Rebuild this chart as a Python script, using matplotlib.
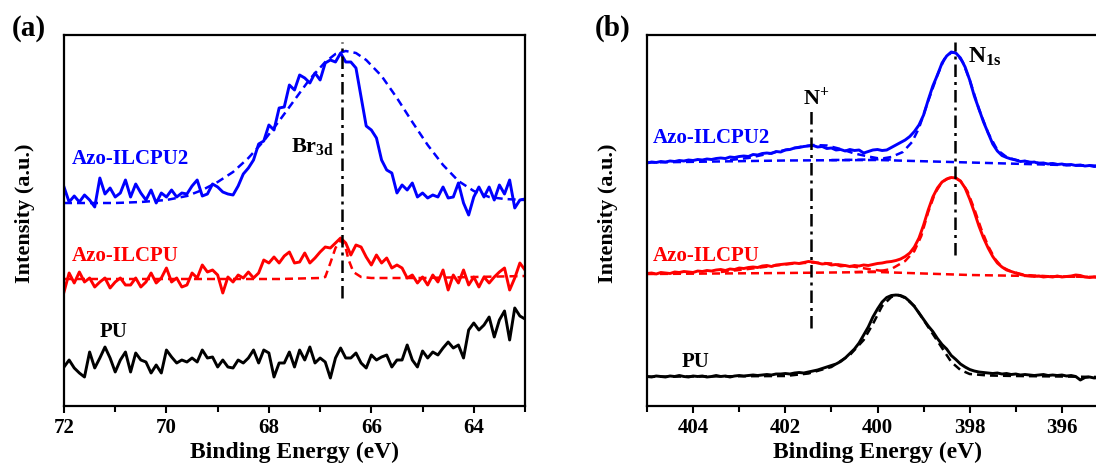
import matplotlib
matplotlib.use("Agg")
import matplotlib.pyplot as plt
from matplotlib.ticker import MultipleLocator

plt.rcParams['font.family'] = ['Liberation Serif', 'DejaVu Serif']
plt.rcParams['font.weight'] = 'bold'
plt.rcParams['mathtext.fontset'] = 'custom'
plt.rcParams['mathtext.rm'] = 'Liberation Serif:bold'
plt.rcParams['mathtext.it'] = 'Liberation Serif:bold'
plt.rcParams['mathtext.bf'] = 'Liberation Serif:bold'

# ---------------- (a) Br 3d region ----------------
be_a = [72.0, 71.9, 71.8, 71.7, 71.6, 71.5, 71.4, 71.3, 71.2, 71.1,
        71.0, 70.9, 70.8, 70.7, 70.6, 70.5, 70.4, 70.3, 70.2, 70.1,
        70.0, 69.9, 69.8, 69.7, 69.6, 69.5, 69.4, 69.3, 69.2, 69.1,
        69.0, 68.9, 68.8, 68.7, 68.6, 68.5, 68.4, 68.3, 68.2, 68.1,
        68.0, 67.9, 67.8, 67.7, 67.6, 67.5, 67.4, 67.3, 67.2, 67.1,
        67.0, 66.9, 66.8, 66.7, 66.6, 66.5, 66.4, 66.3, 66.2, 66.1,
        66.0, 65.9, 65.8, 65.7, 65.6, 65.5, 65.4, 65.3, 65.2, 65.1,
        65.0, 64.9, 64.8, 64.7, 64.6, 64.5, 64.4, 64.3, 64.2, 64.1,
        64.0, 63.9, 63.8, 63.7, 63.6, 63.5, 63.4, 63.3, 63.2, 63.1,
        63.0]
br_ilcpu2 = [219, 204, 210, 204, 211, 206, 199, 228, 212, 218,
             209, 213, 226, 209, 222, 213, 206, 216, 203, 213,
             209, 216, 209, 213, 212, 220, 226, 210, 212, 222,
             219, 214, 212, 211, 220, 232, 238, 246, 262, 265,
             281, 276, 298, 299, 321, 316, 331, 328, 323, 333,
             326, 343, 346, 344, 353, 344, 344, 338, 309, 280,
             276, 268, 246, 236, 233, 213, 221, 216, 223, 209,
             213, 208, 211, 209, 219, 208, 209, 223, 203, 191,
             209, 219, 209, 219, 206, 221, 212, 226, 198, 206,
             207]
br_ilcpu = [114, 133, 123, 134, 124, 128, 119, 124, 128, 118,
            124, 128, 121, 121, 128, 119, 124, 133, 123, 128,
            138, 124, 128, 119, 121, 133, 128, 141, 134, 136,
            131, 113, 129, 124, 131, 128, 134, 128, 133, 146,
            143, 149, 143, 150, 154, 143, 144, 153, 143, 148,
            154, 159, 158, 163, 168, 163, 151, 161, 159, 149,
            141, 151, 143, 148, 138, 141, 138, 128, 131, 123,
            129, 121, 131, 124, 136, 116, 131, 123, 136, 121,
            129, 119, 129, 123, 129, 134, 138, 116, 128, 143,
            136]
br_pu = [39, 46, 38, 33, 29, 54, 38, 48, 59, 48,
         34, 46, 54, 34, 53, 46, 44, 33, 41, 33,
         56, 49, 43, 46, 44, 48, 44, 56, 48, 49,
         39, 46, 39, 38, 46, 43, 48, 56, 43, 56,
         53, 29, 43, 43, 54, 39, 56, 46, 59, 43,
         48, 44, 28, 48, 58, 48, 48, 53, 43, 38,
         51, 46, 49, 51, 39, 46, 46, 61, 46, 39,
         55, 48, 54, 51, 58, 64, 58, 61, 48, 76,
         83, 76, 81, 89, 69, 86, 95, 66, 98, 90,
         87]

fit_be_a2 = [72.0, 71.0, 70.5, 70.0, 69.6, 69.3, 69.0, 68.7, 68.4, 68.1,
             67.8, 67.5, 67.2, 66.9, 66.7, 66.5, 66.3, 66.1, 65.8, 65.5,
             65.2, 64.9, 64.6, 64.3, 64.0, 63.7, 63.4, 63.0]
fit_a2 = [203, 203, 204, 206, 210, 216, 224, 234, 248, 265,
          285, 306, 327, 344, 352, 355, 353, 346, 330, 308,
          284, 261, 241, 225, 215, 209, 207, 206]
fit_be_a1 = [72.0, 69.0, 67.8, 67.0, 66.9, 66.8, 66.7, 66.6, 66.5, 66.45,
             66.35, 66.2, 66.0, 65.0, 64.0, 63.0]
fit_a1 = [127, 127, 127, 128, 129, 143, 158, 166, 158, 147,
          134, 129, 128, 128, 129, 130]

br_line = 66.57

# ---------------- (b) N 1s region ----------------
be_b = [405.0, 404.9, 404.8, 404.7, 404.6, 404.5, 404.4, 404.3, 404.2, 404.1,
        404.0, 403.9, 403.8, 403.7, 403.6, 403.5, 403.4, 403.3, 403.2, 403.1,
        403.0, 402.9, 402.8, 402.7, 402.6, 402.5, 402.4, 402.3, 402.2, 402.1,
        402.0, 401.9, 401.8, 401.7, 401.6, 401.5, 401.4, 401.3, 401.2, 401.1,
        401.0, 400.9, 400.8, 400.7, 400.6, 400.5, 400.4, 400.3, 400.2, 400.1,
        400.0, 399.9, 399.8, 399.7, 399.6, 399.5, 399.4, 399.3, 399.2, 399.1,
        399.0, 398.9, 398.8, 398.7, 398.6, 398.5, 398.4, 398.3, 398.2, 398.1,
        398.0, 397.9, 397.8, 397.7, 397.6, 397.5, 397.4, 397.3, 397.2, 397.1,
        397.0, 396.9, 396.8, 396.7, 396.6, 396.5, 396.4, 396.3, 396.2, 396.1,
        396.0, 395.9, 395.8, 395.7, 395.6, 395.5, 395.4, 395.3, 395.2]
n_ilcpu2 = [243, 244, 243.5, 244.5, 244, 245, 244.5, 245.5, 245, 246,
            245.5, 246.5, 246, 247, 246.5, 247.5, 248, 247.5, 249, 248.5,
            249.5, 250, 249.5, 251.5, 251, 252.5, 253, 252.5, 254.5, 254,
            256, 256.5, 258, 258.5, 259.5, 260, 260.5, 259, 259.5, 257.5,
            258, 256, 256.5, 255, 256.5, 255.5, 256, 253, 254.5, 256,
            256.5, 255.5, 256, 258.5, 261, 263.5, 266, 269.5, 274.5, 281,
            291, 306, 320, 331, 343, 350, 354, 353, 348, 339,
            326, 310, 297, 284, 273, 262, 255, 250.5, 248.5, 247,
            246, 244.5, 245, 243.5, 244, 242.5, 243, 242, 242.5, 241.5,
            242, 241, 241.5, 240.5, 241, 240, 240.5, 239.5, 240]
n_ilcpu = [132.5, 133, 132, 133.5, 133, 132.5, 134, 133.5, 134.5, 134,
           133.5, 135, 134.5, 135.5, 135, 136, 136.5, 135.5, 137, 136.5,
           138, 137.5, 138.5, 139, 138.5, 140, 140.5, 139.5, 141, 141.5,
           142, 142.5, 143, 142.5, 143.5, 144.5, 144, 143, 142, 142.5,
           141, 141.5, 140, 140.5, 139.5, 140.5, 140, 141, 140.5, 141.5,
           142.5, 143, 144, 144.5, 145.5, 147, 149.5, 153, 159, 168,
           181, 196, 209, 218, 224, 227, 228.5, 228, 225, 218,
           207, 194, 180, 168, 158, 149.5, 143, 139, 136, 134.5,
           133, 131.5, 130.5, 130, 129.5, 130, 129, 129.5, 129, 130,
           129, 129.5, 130, 131, 130.5, 129, 128.5, 129, 128.5]
n_pu = [29.5, 29, 30, 29.5, 29, 30, 29.5, 30.5, 29.5, 29,
        30, 29.5, 30, 29, 29.5, 30.5, 29.5, 30, 29, 30,
        30.5, 30, 30.5, 31, 30.5, 31, 31.5, 31, 32, 32,
        32.5, 32, 33, 33.5, 33, 34, 35, 36, 37.5, 39,
        40.5, 42, 44.5, 48, 52.5, 57, 63, 71, 79, 89,
        97, 104, 108.5, 110.5, 111, 110.5, 108.5, 104.5, 99.5, 93,
        86.5, 80, 74.5, 67.5, 61.5, 57, 50.5, 46.5, 42, 39,
        36.5, 35, 34, 33.5, 33, 32.5, 33, 32, 32.5, 31.5,
        32, 31, 31.5, 31, 30.5, 31, 31.5, 30.5, 31, 30.5,
        31, 30, 30.5, 29.5, 26, 28.5, 29, 28, 28.5]

# fitted components (dashed)
bg_be = [405.0, 402.0, 400.0, 398.0, 396.0, 395.2]
bg_ilcpu2 = [243.5, 245.5, 246, 243.5, 241, 240]
bg_ilcpu = [132, 133, 134, 131, 129.5, 129]
np_be2 = [403.2, 402.8, 402.4, 402.0, 401.7, 401.4, 401.1, 400.8, 400.5, 400.2,
          399.9, 399.6]
np_ilcpu2 = [246, 248, 252, 256, 259, 261, 260.5, 257, 252.5, 249.5,
             247, 246]
np_be1 = [403.4, 402.8, 402.2, 401.8, 401.4, 401.0, 400.6, 400.2, 399.8]
np_ilcpu = [134, 137, 140.5, 142.5, 143.5, 142.5, 140, 137, 134.5]
n1s_be2 = [401.0, 400.5, 400.0, 399.7, 399.45, 399.25, 399.1, 398.9, 398.7, 398.55,
           398.4, 398.3, 398.15, 398.0, 397.8, 397.6, 397.4, 397.2, 397.0, 396.6,
           396.0, 395.2]
n1s_ilcpu2 = [246, 246.2, 246.7, 249, 254, 264, 278, 305, 331, 347,
              353.5, 353, 344, 326, 297, 273, 256, 249, 246, 243.5,
              241.5, 240]
n1s_be1 = [400.5, 400.0, 399.7, 399.4, 399.2, 399.05, 398.9, 398.75, 398.6, 398.45,
           398.33, 398.2, 398.05, 397.9, 397.75, 397.6, 397.45, 397.3, 397.1, 396.8,
           396.2, 395.2]
n1s_ilcpu = [134, 134.5, 137, 145, 155, 170, 194, 213, 224, 228,
             228.5, 225, 215, 197, 177, 160, 147, 139, 134.5, 131,
             129.5, 129]
pu_fit_be = [405.0, 402.0, 401.5, 401.0, 400.6, 400.3, 400.1, 399.9, 399.7, 399.55,
             399.4, 399.2, 399.0, 398.8, 398.6, 398.4, 398.2, 398.0, 397.6, 397.0,
             396.0, 395.2]
pu_fit = [29.3, 30, 32.5, 39, 51, 66, 82, 100, 109, 111,
          108, 100, 86, 72, 58, 44, 36, 32, 30.5, 30,
          29.5, 29]

nplus_line = 401.45
n1s_line = 398.31

W, H = 1096, 468
fig = plt.figure(figsize=(W / 100, H / 100), dpi=100)

ax_a = fig.add_axes([64 / W, 62 / H, 461 / W, 371 / H])
ax_b = fig.add_axes([647 / W, 62 / H, 461 / W, 371 / H])

solid = dict(lw=2.1, solid_joinstyle='round')
dash = dict(lw=1.8, ls=(0, (3.2, 2.0)))
dashdot = dict(color='black', lw=1.8, ls=(0, (5, 2, 1.2, 2)))

# panel (a)
ax_a.plot(fit_be_a2, fit_a2, color='blue', **dash)
ax_a.plot(fit_be_a1, fit_a1, color='red', **dash)
ax_a.plot(be_a, br_ilcpu2, color='blue', **solid)
ax_a.plot(be_a, br_ilcpu, color='red', **solid)
ax_a.plot(be_a, br_pu, color='black', **solid)
ax_a.plot([br_line, br_line], [108, 364], **dashdot)
ax_a.set_xlim(72, 63)

ax_a.text(71.85, 247, 'Azo-ILCPU2', color='blue', fontsize=15, va='center', ha='left')
ax_a.text(71.85, 150, 'Azo-ILCPU', color='red', fontsize=15, va='center', ha='left')
ax_a.text(71.3, 74, 'PU', color='black', fontsize=15, va='center', ha='left')
ax_a.text(66.72, 254, 'Br$_{3d}$', color='black', fontsize=16, va='baseline', ha='right')

# panel (b)
ax_b.plot(bg_be, bg_ilcpu2, color='blue', **dash)
ax_b.plot(np_be2, np_ilcpu2, color='blue', **dash)
ax_b.plot(n1s_be2, n1s_ilcpu2, color='blue', **dash)
ax_b.plot(bg_be, bg_ilcpu, color='red', **dash)
ax_b.plot(np_be1, np_ilcpu, color='red', **dash)
ax_b.plot(n1s_be1, n1s_ilcpu, color='red', **dash)
ax_b.plot(pu_fit_be, pu_fit, color='black', **dash)
ax_b.plot(be_b, n_ilcpu2, color='blue', **solid)
ax_b.plot(be_b, n_ilcpu, color='red', **solid)
ax_b.plot(be_b, n_pu, color='black', **solid)
ax_b.plot([nplus_line, nplus_line], [78, 298], **dashdot)
ax_b.plot([n1s_line, n1s_line], [151, 364], **dashdot)
ax_b.set_xlim(405, 395)

ax_b.text(404.87, 268, 'Azo-ILCPU2', color='blue', fontsize=15, va='center', ha='left')
ax_b.text(404.87, 150, 'Azo-ILCPU', color='red', fontsize=15, va='center', ha='left')
ax_b.text(404.24, 44, 'PU', color='black', fontsize=15, va='center', ha='left')
ax_b.text(401.62, 302, 'N$^{+}$', color='black', fontsize=16, va='baseline', ha='left')
ax_b.text(398.04, 343, 'N$_{1s}$', color='black', fontsize=17, va='baseline', ha='left')

for ax in (ax_a, ax_b):
    ax.set_ylim(0, 371)
    ax.set_yticks([])
    ax.xaxis.set_major_locator(MultipleLocator(2))
    ax.xaxis.set_minor_locator(MultipleLocator(1))
    ax.tick_params(axis='x', which='major', direction='out', length=5, width=1.5,
                   labelsize=15, pad=3.5)
    ax.tick_params(axis='x', which='minor', direction='out', length=4, width=1.5)
    for lab in ax.get_xticklabels():
        lab.set_fontweight('bold')
    for sp in ax.spines.values():
        sp.set_linewidth(1.6)
    ax.set_xlabel('Binding Energy (eV)', fontsize=17, fontweight='bold', labelpad=3)
    ax.set_ylabel('Intensity (a.u.)', fontsize=16, fontweight='bold')
    ax.yaxis.set_label_coords(-0.063, 0.52)

fig.text(12 / W, 1 - 28 / H, '(a)', fontsize=21, fontweight='bold', va='center', ha='left')
fig.text(595 / W, 1 - 28 / H, '(b)', fontsize=21, fontweight='bold', va='center', ha='left')

fig.savefig('out.png', dpi=100)
